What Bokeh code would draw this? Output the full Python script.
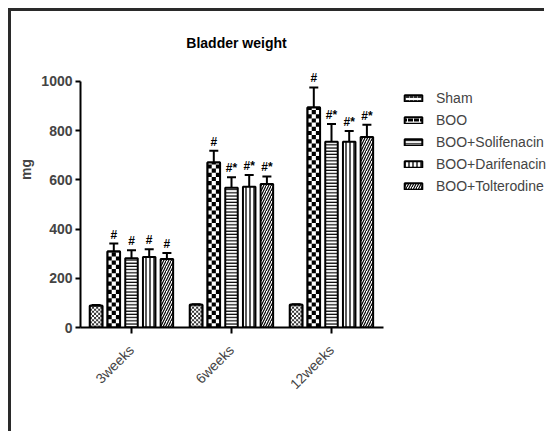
from math import pi, ceil

from bokeh.plotting import figure
from bokeh.models import (ColumnDataSource, Range1d, FixedTicker, Legend, LegendItem, Label)
from bokeh.embed import file_html
from bokeh.resources import INLINE
from bokeh.core.properties import value

# ---------------- data ----------------
title_text = "Bladder weight"
timepoints = ["3weeks", "6weeks", "12weeks"]
groups = ["Sham", "BOO", "BOO+Solifenacin", "BOO+Darifenacin", "BOO+Tolterodine"]

sham = [88, 92, 92]
boo = [309, 671, 894]
solifenacin = [282, 568, 755]
darifenacin = [287, 572, 755]
tolterodine = [278, 583, 774]

sham_err = [3, 3, 3]
boo_err = [32, 47, 82]
solifenacin_err = [32, 43, 72]
darifenacin_err = [31, 48, 44]
tolterodine_err = [25, 31, 50]

sham_marks = ["", "", ""]
boo_marks = ["#", "#", "#"]
solifenacin_marks = ["#", "#*", "#*"]
darifenacin_marks = ["#", "#*", "#*"]
tolterodine_marks = ["#", "#*", "#*"]

y_ticks = [0, 200, 400, 600, 800, 1000]

series_values = [sham, boo, solifenacin, darifenacin, tolterodine]
series_errors = [sham_err, boo_err, solifenacin_err, darifenacin_err, tolterodine_err]
series_marks = [sham_marks, boo_marks, solifenacin_marks, darifenacin_marks, tolterodine_marks]

# legend / bar hatch styles (Sham and BOO bars additionally get a checker fill)
styles = [
    dict(hatch_pattern="horizontal_dash", hatch_scale=4, hatch_weight=2, hatch_color="#333333"),
    dict(hatch_pattern="horizontal_dash", hatch_scale=6, hatch_weight=3, hatch_color="black"),
    dict(hatch_pattern="horizontal_line", hatch_scale=3.2, hatch_weight=1.2, hatch_color="black"),
    dict(hatch_pattern="vertical_line", hatch_scale=4, hatch_weight=1.3, hatch_color="black"),
    dict(hatch_pattern="right_diagonal_line", hatch_scale=5, hatch_weight=1.2, hatch_color="black"),
]
# checker: (columns across a bar, cell height in data units, colour) or None
checkers = [(6, 8.5, "#3a3a3a"), (3, 17.0, "black"), None, None, None]

FONT = "Liberation Sans"
SHIFT = 11  # page offset of the figure (outer frame line on top/left)

p = figure(width=547 - SHIFT, height=434 - SHIFT, output_backend="svg",
           toolbar_location=None,
           x_range=Range1d(0.49, 5.16), y_range=Range1d(0, 1284.5),
           min_border_left=80 - SHIFT, min_border_right=0, min_border_top=0,
           min_border_bottom=107)
p.outline_line_color = None
p.xgrid.visible = False
p.ygrid.visible = False
p.background_fill_color = "white"
p.border_fill_color = "white"
p.margin = (8, 0, 0, 8)
p.styles = {"border-top": "3px solid #2a2a2a", "border-left": "3px solid #2a2a2a",
            "border-right": "0px none", "border-bottom": "0px none"}

offsets = [-0.354, -0.177, 0.0, 0.177, 0.354]
bar_w = 0.125
cap_half = 0.045
centers = [1, 2, 3]

items = []
for gi, name in enumerate(groups):
    xs = [c + offsets[gi] for c in centers]
    vals = series_values[gi]
    errs = series_errors[gi]
    tops = [v + e for v, e in zip(vals, errs)]
    src = ColumnDataSource(dict(
        x=xs, top=vals, etop=tops,
        x0=[x - cap_half for x in xs], x1=[x + cap_half for x in xs],
        mark=series_marks[gi]))
    p.segment(x0="x", y0="top", x1="x", y1="etop", source=src, line_color="black", line_width=2)
    p.segment(x0="x0", y0="etop", x1="x1", y1="etop", source=src, line_color="black", line_width=2)
    # hatched bar (used by the legend; covered by the checker fill when there is one)
    r = p.vbar(x="x", top="top", width=bar_w, source=src, fill_color="white",
               line_color="black", line_width=2, **styles[gi])
    chk = checkers[gi]
    if chk is not None:
        ncol, ch, ccol = chk
        cw = bar_w / ncol
        L, R, B, T = [], [], [], []
        for x, v in zip(xs, vals):
            for row in range(int(ceil(v / ch))):
                for col in range(ncol):
                    if (row + col) % 2 == 0:
                        left = x - bar_w / 2 + col * cw
                        L.append(left)
                        R.append(left + cw)
                        B.append(row * ch)
                        T.append(min((row + 1) * ch, v))
        p.vbar(x="x", top="top", width=bar_w, source=src, fill_color="white", line_color=None)
        p.quad(left=L, right=R, bottom=B, top=T, fill_color=ccol, line_color=None)
        p.vbar(x="x", top="top", width=bar_w, source=src, fill_alpha=0,
               line_color="black", line_width=2)
    p.text(x="x", y="etop", text="mark", source=src, text_align="center", text_baseline="bottom",
           y_offset=-2, text_font=value(FONT), text_font_size="12px", text_font_style="bold",
           text_color="black")
    items.append(LegendItem(label=name, renderers=[r]))

legend = Legend(items=items, location=(322, 133), glyph_width=22, glyph_height=8,
                label_text_font=FONT, label_text_font_size="14px", label_height=16,
                spacing=6, label_standoff=12, padding=0, margin=0,
                border_line_alpha=0, background_fill_alpha=0)
p.add_layout(legend)

title = Label(x=2.05, y=1158, text=title_text, text_align="center", text_baseline="middle",
              text_font=FONT, text_font_size="14px", text_font_style="bold", text_color="black")
p.add_layout(title)

# axes
xa = p.xaxis[0]
xa.ticker = FixedTicker(ticks=centers)
xa.bounds = (0.49, 3.52)
xa.major_label_overrides = {c: t for c, t in zip(centers, timepoints)}
xa.major_label_orientation = pi / 4
xa.major_label_text_font = FONT
xa.major_label_text_font_size = "14px"
xa.major_label_standoff = 14
xa.axis_line_width = 2
xa.major_tick_line_width = 2
xa.major_tick_out = 6
xa.major_tick_in = 0
xa.minor_tick_line_color = None

ya = p.yaxis[0]
ya.ticker = FixedTicker(ticks=y_ticks)
ya.bounds = (0, 1000)
ya.axis_label = "mg"
ya.axis_label_text_font = FONT
ya.axis_label_text_font_size = "14px"
ya.axis_label_text_font_style = "bold"
ya.axis_label_standoff = 4
ya.major_label_text_font = FONT
ya.major_label_text_font_size = "14px"
ya.major_label_text_font_style = "bold"
ya.major_label_standoff = 3
ya.axis_line_width = 2
ya.major_tick_line_width = 2
ya.major_tick_out = 5
ya.major_tick_in = 0
ya.minor_tick_line_color = None

open("out.html", "w").write(file_html(p, INLINE))
